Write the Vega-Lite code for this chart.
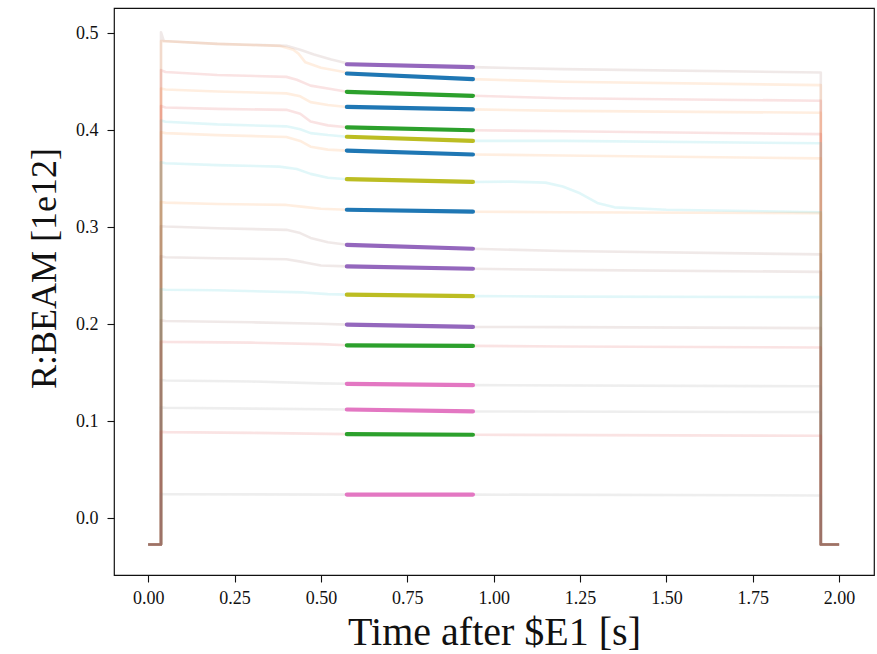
{
  "$schema": "https://vega.github.io/schema/vega-lite/v6.json",
  "width": 760,
  "height": 567,
  "autosize": {"type": "none"},
  "padding": {"left": 114, "top": 8, "right": 3, "bottom": 79},
  "background": "white",
  "config": {
    "font": "Liberation Serif",
    "view": {"stroke": "#111", "strokeWidth": 1.2},
    "axis": {"domain": false, "grid": false, "tickColor": "#111", "tickSize": 7, "tickWidth": 1.1, "labelFontSize": 18, "labelColor": "#111", "titleColor": "#111", "titleFontWeight": "normal", "labelFont": "Liberation Serif", "titleFont": "Liberation Serif"}
  },
  "datasets": {
    "faint": [
      {"s":"A","c":"brown","x":0,"y":-0.027},{"s":"A","c":"brown","x":0.037,"y":-0.027},{"s":"A","c":"brown","x":0.037,"y":0.501},{"s":"A","c":"brown","x":0.045,"y":0.492},{"s":"A","c":"brown","x":0.2,"y":0.489},{"s":"A","c":"brown","x":0.4,"y":0.487},{"s":"A","c":"brown","x":0.44,"y":0.483},{"s":"A","c":"brown","x":0.48,"y":0.478},{"s":"A","c":"brown","x":0.53,"y":0.473},{"s":"A","c":"brown","x":0.575,"y":0.469},{"s":"A","c":"brown","x":0.94,"y":0.465},{"s":"A","c":"brown","x":1.2,"y":0.463},{"s":"A","c":"brown","x":1.947,"y":0.4595},{"s":"A","c":"brown","x":1.947,"y":-0.027},{"s":"A","c":"brown","x":2.0,"y":-0.027},

      {"s":"B","c":"orange","x":0,"y":-0.027},{"s":"B","c":"orange","x":0.037,"y":-0.027},{"s":"B","c":"orange","x":0.037,"y":0.492},{"s":"B","c":"orange","x":0.2,"y":0.489},{"s":"B","c":"orange","x":0.38,"y":0.487},{"s":"B","c":"orange","x":0.42,"y":0.483},{"s":"B","c":"orange","x":0.435,"y":0.479},{"s":"B","c":"orange","x":0.455,"y":0.470},{"s":"B","c":"orange","x":0.5,"y":0.4645},{"s":"B","c":"orange","x":0.575,"y":0.4595},{"s":"B","c":"orange","x":0.94,"y":0.4527},{"s":"B","c":"orange","x":1.2,"y":0.450},{"s":"B","c":"orange","x":1.947,"y":0.4465},{"s":"B","c":"orange","x":1.947,"y":-0.027},{"s":"B","c":"orange","x":2.0,"y":-0.027},

      {"s":"C","c":"red","x":0,"y":-0.027},{"s":"C","c":"red","x":0.037,"y":-0.027},{"s":"C","c":"red","x":0.037,"y":0.462},{"s":"C","c":"red","x":0.05,"y":0.460},{"s":"C","c":"red","x":0.2,"y":0.457},{"s":"C","c":"red","x":0.4,"y":0.455},{"s":"C","c":"red","x":0.43,"y":0.452},{"s":"C","c":"red","x":0.47,"y":0.446},{"s":"C","c":"red","x":0.52,"y":0.443},{"s":"C","c":"red","x":0.575,"y":0.4396},{"s":"C","c":"red","x":0.94,"y":0.4355},{"s":"C","c":"red","x":1.2,"y":0.433},{"s":"C","c":"red","x":1.947,"y":0.4304},{"s":"C","c":"red","x":1.947,"y":-0.027},{"s":"C","c":"red","x":2.0,"y":-0.027},

      {"s":"D","c":"orange","x":0,"y":-0.027},{"s":"D","c":"orange","x":0.037,"y":-0.027},{"s":"D","c":"orange","x":0.037,"y":0.443},{"s":"D","c":"orange","x":0.05,"y":0.442},{"s":"D","c":"orange","x":0.2,"y":0.440},{"s":"D","c":"orange","x":0.4,"y":0.438},{"s":"D","c":"orange","x":0.44,"y":0.435},{"s":"D","c":"orange","x":0.47,"y":0.429},{"s":"D","c":"orange","x":0.52,"y":0.426},{"s":"D","c":"orange","x":0.575,"y":0.424},{"s":"D","c":"orange","x":0.94,"y":0.4215},{"s":"D","c":"orange","x":1.2,"y":0.420},{"s":"D","c":"orange","x":1.947,"y":0.418},{"s":"D","c":"orange","x":1.947,"y":-0.027},{"s":"D","c":"orange","x":2.0,"y":-0.027},

      {"s":"E","c":"red","x":0,"y":-0.027},{"s":"E","c":"red","x":0.037,"y":-0.027},{"s":"E","c":"red","x":0.037,"y":0.425},{"s":"E","c":"red","x":0.05,"y":0.4235},{"s":"E","c":"red","x":0.2,"y":0.422},{"s":"E","c":"red","x":0.4,"y":0.421},{"s":"E","c":"red","x":0.44,"y":0.417},{"s":"E","c":"red","x":0.47,"y":0.409},{"s":"E","c":"red","x":0.52,"y":0.405},{"s":"E","c":"red","x":0.575,"y":0.403},{"s":"E","c":"red","x":0.94,"y":0.400},{"s":"E","c":"red","x":1.2,"y":0.399},{"s":"E","c":"red","x":1.947,"y":0.396},{"s":"E","c":"red","x":1.947,"y":-0.027},{"s":"E","c":"red","x":2.0,"y":-0.027},

      {"s":"F","c":"cyan","x":0,"y":-0.027},{"s":"F","c":"cyan","x":0.037,"y":-0.027},{"s":"F","c":"cyan","x":0.037,"y":0.410},{"s":"F","c":"cyan","x":0.05,"y":0.4087},{"s":"F","c":"cyan","x":0.2,"y":0.406},{"s":"F","c":"cyan","x":0.4,"y":0.404},{"s":"F","c":"cyan","x":0.44,"y":0.401},{"s":"F","c":"cyan","x":0.47,"y":0.397},{"s":"F","c":"cyan","x":0.52,"y":0.395},{"s":"F","c":"cyan","x":0.575,"y":0.3933},{"s":"F","c":"cyan","x":0.94,"y":0.389},{"s":"F","c":"cyan","x":1.2,"y":0.389},{"s":"F","c":"cyan","x":1.947,"y":0.3865},{"s":"F","c":"cyan","x":1.947,"y":-0.027},{"s":"F","c":"cyan","x":2.0,"y":-0.027},

      {"s":"G","c":"orange","x":0,"y":-0.027},{"s":"G","c":"orange","x":0.037,"y":-0.027},{"s":"G","c":"orange","x":0.037,"y":0.398},{"s":"G","c":"orange","x":0.05,"y":0.397},{"s":"G","c":"orange","x":0.2,"y":0.395},{"s":"G","c":"orange","x":0.4,"y":0.393},{"s":"G","c":"orange","x":0.44,"y":0.389},{"s":"G","c":"orange","x":0.47,"y":0.383},{"s":"G","c":"orange","x":0.52,"y":0.380},{"s":"G","c":"orange","x":0.575,"y":0.379},{"s":"G","c":"orange","x":0.94,"y":0.375},{"s":"G","c":"orange","x":1.2,"y":0.374},{"s":"G","c":"orange","x":1.947,"y":0.371},{"s":"G","c":"orange","x":1.947,"y":-0.027},{"s":"G","c":"orange","x":2.0,"y":-0.027},

      {"s":"H","c":"cyan","x":0,"y":-0.027},{"s":"H","c":"cyan","x":0.037,"y":-0.027},{"s":"H","c":"cyan","x":0.037,"y":0.367},{"s":"H","c":"cyan","x":0.05,"y":0.366},{"s":"H","c":"cyan","x":0.2,"y":0.364},{"s":"H","c":"cyan","x":0.38,"y":0.3625},{"s":"H","c":"cyan","x":0.43,"y":0.360},{"s":"H","c":"cyan","x":0.47,"y":0.355},{"s":"H","c":"cyan","x":0.52,"y":0.351},{"s":"H","c":"cyan","x":0.575,"y":0.3495},{"s":"H","c":"cyan","x":0.94,"y":0.3467},{"s":"H","c":"cyan","x":1.05,"y":0.347},{"s":"H","c":"cyan","x":1.15,"y":0.346},{"s":"H","c":"cyan","x":1.2,"y":0.342},{"s":"H","c":"cyan","x":1.25,"y":0.335},{"s":"H","c":"cyan","x":1.3,"y":0.325},{"s":"H","c":"cyan","x":1.35,"y":0.3205},{"s":"H","c":"cyan","x":1.5,"y":0.318},{"s":"H","c":"cyan","x":1.947,"y":0.3155},{"s":"H","c":"cyan","x":1.947,"y":-0.027},{"s":"H","c":"cyan","x":2.0,"y":-0.027},

      {"s":"I","c":"orange","x":0,"y":-0.027},{"s":"I","c":"orange","x":0.037,"y":-0.027},{"s":"I","c":"orange","x":0.037,"y":0.326},{"s":"I","c":"orange","x":0.05,"y":0.3254},{"s":"I","c":"orange","x":0.2,"y":0.324},{"s":"I","c":"orange","x":0.4,"y":0.323},{"s":"I","c":"orange","x":0.45,"y":0.321},{"s":"I","c":"orange","x":0.5,"y":0.319},{"s":"I","c":"orange","x":0.575,"y":0.318},{"s":"I","c":"orange","x":0.94,"y":0.316},{"s":"I","c":"orange","x":1.2,"y":0.3155},{"s":"I","c":"orange","x":1.947,"y":0.3145},{"s":"I","c":"orange","x":1.947,"y":-0.027},{"s":"I","c":"orange","x":2.0,"y":-0.027},

      {"s":"J","c":"brown","x":0,"y":-0.027},{"s":"J","c":"brown","x":0.037,"y":-0.027},{"s":"J","c":"brown","x":0.037,"y":0.301},{"s":"J","c":"brown","x":0.05,"y":0.3007},{"s":"J","c":"brown","x":0.2,"y":0.299},{"s":"J","c":"brown","x":0.4,"y":0.2973},{"s":"J","c":"brown","x":0.44,"y":0.294},{"s":"J","c":"brown","x":0.47,"y":0.289},{"s":"J","c":"brown","x":0.52,"y":0.2845},{"s":"J","c":"brown","x":0.575,"y":0.2819},{"s":"J","c":"brown","x":0.94,"y":0.2778},{"s":"J","c":"brown","x":1.2,"y":0.2755},{"s":"J","c":"brown","x":1.947,"y":0.272},{"s":"J","c":"brown","x":1.947,"y":-0.027},{"s":"J","c":"brown","x":2.0,"y":-0.027},

      {"s":"K","c":"brown","x":0,"y":-0.027},{"s":"K","c":"brown","x":0.037,"y":-0.027},{"s":"K","c":"brown","x":0.037,"y":0.270},{"s":"K","c":"brown","x":0.05,"y":0.269},{"s":"K","c":"brown","x":0.2,"y":0.268},{"s":"K","c":"brown","x":0.4,"y":0.267},{"s":"K","c":"brown","x":0.45,"y":0.264},{"s":"K","c":"brown","x":0.5,"y":0.2605},{"s":"K","c":"brown","x":0.575,"y":0.2596},{"s":"K","c":"brown","x":0.94,"y":0.2572},{"s":"K","c":"brown","x":1.2,"y":0.256},{"s":"K","c":"brown","x":1.947,"y":0.254},{"s":"K","c":"brown","x":1.947,"y":-0.027},{"s":"K","c":"brown","x":2.0,"y":-0.027},

      {"s":"L","c":"cyan","x":0,"y":-0.027},{"s":"L","c":"cyan","x":0.037,"y":-0.027},{"s":"L","c":"cyan","x":0.037,"y":0.236},{"s":"L","c":"cyan","x":0.05,"y":0.2356},{"s":"L","c":"cyan","x":0.2,"y":0.235},{"s":"L","c":"cyan","x":0.45,"y":0.2328},{"s":"L","c":"cyan","x":0.52,"y":0.231},{"s":"L","c":"cyan","x":0.575,"y":0.2305},{"s":"L","c":"cyan","x":0.94,"y":0.229},{"s":"L","c":"cyan","x":1.2,"y":0.2285},{"s":"L","c":"cyan","x":1.947,"y":0.228},{"s":"L","c":"cyan","x":1.947,"y":-0.027},{"s":"L","c":"cyan","x":2.0,"y":-0.027},

      {"s":"M","c":"brown","x":0,"y":-0.027},{"s":"M","c":"brown","x":0.037,"y":-0.027},{"s":"M","c":"brown","x":0.037,"y":0.204},{"s":"M","c":"brown","x":0.05,"y":0.2034},{"s":"M","c":"brown","x":0.3,"y":0.202},{"s":"M","c":"brown","x":0.5,"y":0.2005},{"s":"M","c":"brown","x":0.575,"y":0.1996},{"s":"M","c":"brown","x":0.94,"y":0.1972},{"s":"M","c":"brown","x":1.2,"y":0.197},{"s":"M","c":"brown","x":1.947,"y":0.196},{"s":"M","c":"brown","x":1.947,"y":-0.027},{"s":"M","c":"brown","x":2.0,"y":-0.027},

      {"s":"N","c":"red","x":0,"y":-0.027},{"s":"N","c":"red","x":0.037,"y":-0.027},{"s":"N","c":"red","x":0.037,"y":0.182},{"s":"N","c":"red","x":0.05,"y":0.1818},{"s":"N","c":"red","x":0.3,"y":0.181},{"s":"N","c":"red","x":0.5,"y":0.1795},{"s":"N","c":"red","x":0.575,"y":0.1783},{"s":"N","c":"red","x":0.94,"y":0.1777},{"s":"N","c":"red","x":1.2,"y":0.177},{"s":"N","c":"red","x":1.947,"y":0.176},{"s":"N","c":"red","x":1.947,"y":-0.027},{"s":"N","c":"red","x":2.0,"y":-0.027},

      {"s":"O","c":"gray","x":0,"y":-0.027},{"s":"O","c":"gray","x":0.037,"y":-0.027},{"s":"O","c":"gray","x":0.037,"y":0.1425},{"s":"O","c":"gray","x":0.05,"y":0.142},{"s":"O","c":"gray","x":0.3,"y":0.141},{"s":"O","c":"gray","x":0.5,"y":0.139},{"s":"O","c":"gray","x":0.575,"y":0.1386},{"s":"O","c":"gray","x":0.94,"y":0.1372},{"s":"O","c":"gray","x":1.947,"y":0.136},{"s":"O","c":"gray","x":1.947,"y":-0.027},{"s":"O","c":"gray","x":2.0,"y":-0.027},

      {"s":"P","c":"gray","x":0,"y":-0.027},{"s":"P","c":"gray","x":0.037,"y":-0.027},{"s":"P","c":"gray","x":0.037,"y":0.1142},{"s":"P","c":"gray","x":0.05,"y":0.1139},{"s":"P","c":"gray","x":0.3,"y":0.113},{"s":"P","c":"gray","x":0.575,"y":0.1121},{"s":"P","c":"gray","x":0.94,"y":0.1101},{"s":"P","c":"gray","x":1.947,"y":0.1095},{"s":"P","c":"gray","x":1.947,"y":-0.027},{"s":"P","c":"gray","x":2.0,"y":-0.027},

      {"s":"Q","c":"red","x":0,"y":-0.027},{"s":"Q","c":"red","x":0.037,"y":-0.027},{"s":"Q","c":"red","x":0.037,"y":0.089},{"s":"Q","c":"red","x":0.05,"y":0.0888},{"s":"Q","c":"red","x":0.3,"y":0.088},{"s":"Q","c":"red","x":0.575,"y":0.0867},{"s":"Q","c":"red","x":0.94,"y":0.0861},{"s":"Q","c":"red","x":1.947,"y":0.085},{"s":"Q","c":"red","x":1.947,"y":-0.027},{"s":"Q","c":"red","x":2.0,"y":-0.027},

      {"s":"R","c":"gray","x":0,"y":-0.027},{"s":"R","c":"gray","x":0.037,"y":-0.027},{"s":"R","c":"gray","x":0.037,"y":0.025},{"s":"R","c":"gray","x":0.05,"y":0.0247},{"s":"R","c":"gray","x":0.3,"y":0.0246},{"s":"R","c":"gray","x":0.575,"y":0.0244},{"s":"R","c":"gray","x":0.94,"y":0.0244},{"s":"R","c":"gray","x":1.947,"y":0.0235},{"s":"R","c":"gray","x":1.947,"y":-0.027},{"s":"R","c":"gray","x":2.0,"y":-0.027}
    ],
    "seg": [
      {"s":"A","c":"purple","x":0.575,"y":0.468},{"s":"A","c":"purple","x":0.94,"y":0.465},
      {"s":"B","c":"blue","x":0.575,"y":0.4585},{"s":"B","c":"blue","x":0.94,"y":0.4527},
      {"s":"C","c":"green","x":0.575,"y":0.4396},{"s":"C","c":"green","x":0.94,"y":0.4355},
      {"s":"D","c":"blue","x":0.575,"y":0.424},{"s":"D","c":"blue","x":0.94,"y":0.4215},
      {"s":"E","c":"green","x":0.575,"y":0.403},{"s":"E","c":"green","x":0.94,"y":0.400},
      {"s":"F","c":"olive","x":0.575,"y":0.3933},{"s":"F","c":"olive","x":0.94,"y":0.389},
      {"s":"G","c":"blue","x":0.575,"y":0.379},{"s":"G","c":"blue","x":0.94,"y":0.375},
      {"s":"H","c":"olive","x":0.575,"y":0.3495},{"s":"H","c":"olive","x":0.94,"y":0.3467},
      {"s":"I","c":"blue","x":0.575,"y":0.318},{"s":"I","c":"blue","x":0.94,"y":0.316},
      {"s":"J","c":"purple","x":0.575,"y":0.2819},{"s":"J","c":"purple","x":0.94,"y":0.2778},
      {"s":"K","c":"purple","x":0.575,"y":0.2596},{"s":"K","c":"purple","x":0.94,"y":0.2572},
      {"s":"L","c":"olive","x":0.575,"y":0.2305},{"s":"L","c":"olive","x":0.94,"y":0.229},
      {"s":"M","c":"purple","x":0.575,"y":0.1996},{"s":"M","c":"purple","x":0.94,"y":0.1972},
      {"s":"N","c":"green","x":0.575,"y":0.1783},{"s":"N","c":"green","x":0.94,"y":0.1777},
      {"s":"O","c":"pink","x":0.575,"y":0.1386},{"s":"O","c":"pink","x":0.94,"y":0.1372},
      {"s":"P","c":"pink","x":0.575,"y":0.1121},{"s":"P","c":"pink","x":0.94,"y":0.1101},
      {"s":"Q","c":"green","x":0.575,"y":0.0867},{"s":"Q","c":"green","x":0.94,"y":0.0861},
      {"s":"R","c":"pink","x":0.575,"y":0.0244},{"s":"R","c":"pink","x":0.94,"y":0.0244}
    ]
  },
  "encoding": {
    "x": {
      "field": "x", "type": "quantitative",
      "scale": {"domain": [-0.099, 2.101], "nice": false, "zero": false},
      "axis": {"values": [0, 0.25, 0.5, 0.75, 1.0, 1.25, 1.5, 1.75, 2.0], "format": ".2f", "labelPadding": 7, "title": "Time after $E1 [s]", "titleFontSize": 40, "titleBaseline": "alphabetic", "titleX": 380, "titleY": 69, "titleAnchor": "middle"}
    },
    "y": {
      "field": "y", "type": "quantitative",
      "scale": {"domain": [-0.0585, 0.526], "nice": false, "zero": false},
      "axis": {"values": [0, 0.1, 0.2, 0.3, 0.4, 0.5], "format": ".1f", "labelPadding": 9, "title": "R:BEAM [1e12]", "titleFontSize": 36, "titleBaseline": "alphabetic", "titleX": -59, "titleY": 260, "titleAngle": 270, "titleAlign": "center"}
    },
    "color": {
      "field": "c", "type": "nominal",
      "scale": {"domain": ["blue","orange","green","red","purple","brown","pink","gray","olive","cyan"], "range": ["#1f77b4","#ff7f0e","#2ca02c","#d62728","#9467bd","#8c564b","#e377c2","#7f7f7f","#bcbd22","#17becf"]},
      "legend": null
    },
    "detail": {"field": "s", "type": "nominal"},
    "order": {"value": null}
  },
  "layer": [
    {"data": {"name": "faint"}, "mark": {"type": "line", "strokeWidth": 2.6, "opacity": 0.13, "strokeJoin": "round"}},
    {"data": {"name": "seg"}, "mark": {"type": "line", "strokeWidth": 4.2, "strokeCap": "round"}}
  ]
}
